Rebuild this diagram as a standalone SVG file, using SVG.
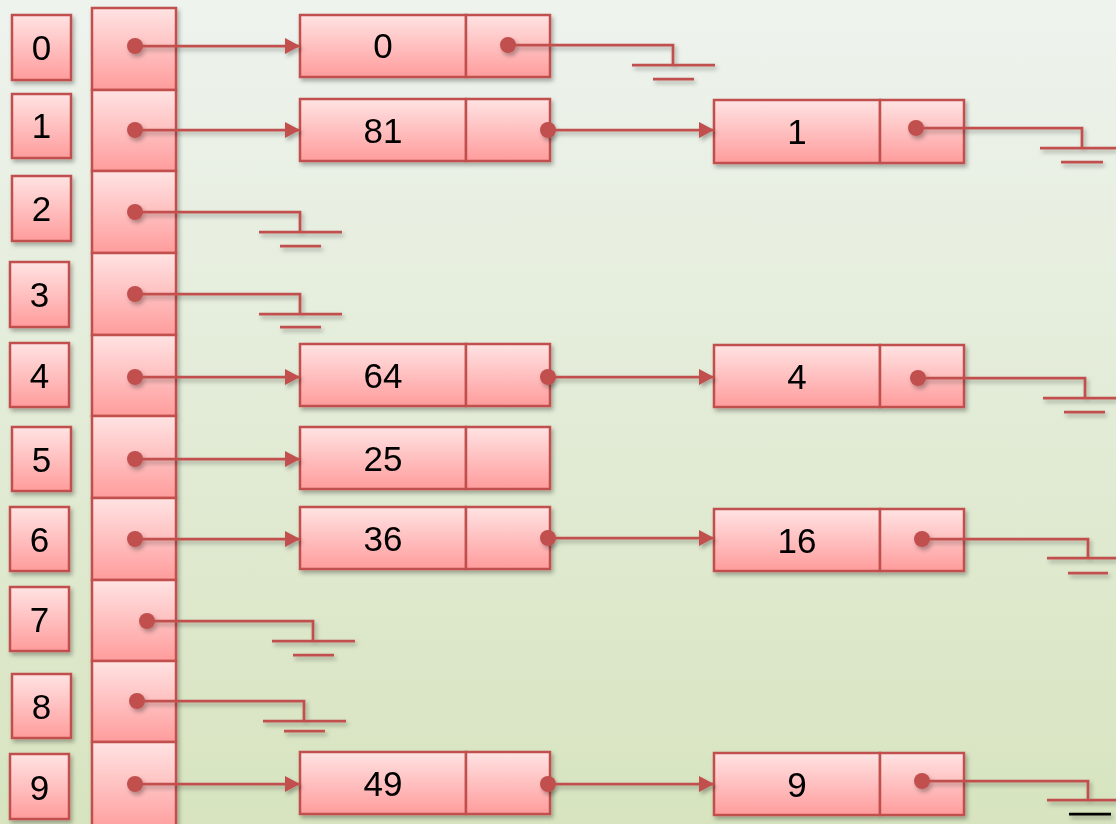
<svg xmlns="http://www.w3.org/2000/svg" width="1116" height="824" viewBox="0 0 1116 824">
<defs>
<linearGradient id="bg" x1="0" y1="0" x2="0" y2="1">
<stop offset="0" stop-color="#EEF3EE"/>
<stop offset="1" stop-color="#D7E4BF"/>
</linearGradient>
<linearGradient id="pink" x1="0" y1="0" x2="0" y2="1">
<stop offset="0" stop-color="#FFE3E3"/>
<stop offset="1" stop-color="#FF9C9C"/>
</linearGradient>
<filter id="sh" x="-20%" y="-20%" width="140%" height="150%">
<feDropShadow dx="2" dy="3" stdDeviation="2" flood-color="#000" flood-opacity="0.3"/>
</filter>
<marker id="arr" markerUnits="userSpaceOnUse" markerWidth="16" markerHeight="18" refX="15" refY="8" orient="auto">
<path d="M0,0 L15,8 L0,16 Z" fill="#C0504D"/>
</marker>
<style>
.box{fill:url(#pink);stroke:#C0504D;stroke-width:2.5}
.ln{stroke:#C0504D;stroke-width:2.75;fill:none}
.dot{fill:#C0504D}
.t{font-family:'Liberation Sans',Arial,sans-serif;font-size:35px;text-anchor:middle;fill:#000}
</style>
</defs>
<rect width="1116" height="824" fill="url(#bg)"/>

<g id="indices" filter="url(#sh)">
<g id="idx0"><rect class="box" x="12" y="15" width="59" height="65"/><text class="t" x="41.5" y="60">0</text></g>
<g id="idx1"><rect class="box" x="12" y="94" width="59" height="64"/><text class="t" x="41.5" y="138">1</text></g>
<g id="idx2"><rect class="box" x="12" y="176" width="59" height="65"/><text class="t" x="41.5" y="221">2</text></g>
<g id="idx3"><rect class="box" x="10" y="262" width="59" height="65"/><text class="t" x="39.5" y="307">3</text></g>
<g id="idx4"><rect class="box" x="10" y="343" width="59" height="64"/><text class="t" x="39.5" y="388">4</text></g>
<g id="idx5"><rect class="box" x="12" y="427" width="59" height="64"/><text class="t" x="41.5" y="472">5</text></g>
<g id="idx6"><rect class="box" x="10" y="507" width="59" height="64"/><text class="t" x="39.5" y="552">6</text></g>
<g id="idx7"><rect class="box" x="10" y="587" width="59" height="64"/><text class="t" x="39.5" y="632">7</text></g>
<g id="idx8"><rect class="box" x="12" y="674" width="59" height="64"/><text class="t" x="41.5" y="719">8</text></g>
<g id="idx9"><rect class="box" x="10" y="754" width="59" height="65"/><text class="t" x="39.5" y="800">9</text></g>
</g>

<g id="array" filter="url(#sh)">
<rect id="cell0" class="box" x="92" y="8" width="84" height="82"/>
<rect id="cell1" class="box" x="92" y="90" width="84" height="81"/>
<rect id="cell2" class="box" x="92" y="171" width="84" height="82"/>
<rect id="cell3" class="box" x="92" y="253" width="84" height="82"/>
<rect id="cell4" class="box" x="92" y="335" width="84" height="81"/>
<rect id="cell5" class="box" x="92" y="416" width="84" height="82"/>
<rect id="cell6" class="box" x="92" y="498" width="84" height="82"/>
<rect id="cell7" class="box" x="92" y="580" width="84" height="81"/>
<rect id="cell8" class="box" x="92" y="661" width="84" height="81"/>
<rect id="cell9" class="box" x="92" y="742" width="84" height="90"/>
</g>

<g id="nodes" filter="url(#sh)">
<g id="n0"><rect class="box" x="300" y="15" width="166" height="62"/><rect class="box" x="466" y="15" width="84" height="62"/><text class="t" x="383" y="58">0</text></g>
<g id="n81"><rect class="box" x="300" y="99" width="166" height="62"/><rect class="box" x="466" y="99" width="84" height="62"/><text class="t" x="383" y="143">81</text></g>
<g id="n64"><rect class="box" x="300" y="344" width="166" height="62"/><rect class="box" x="466" y="344" width="84" height="62"/><text class="t" x="383" y="388">64</text></g>
<g id="n25"><rect class="box" x="300" y="427" width="166" height="62"/><rect class="box" x="466" y="427" width="84" height="62"/><text class="t" x="383" y="471">25</text></g>
<g id="n36"><rect class="box" x="300" y="507" width="166" height="62"/><rect class="box" x="466" y="507" width="84" height="62"/><text class="t" x="383" y="551">36</text></g>
<g id="n49"><rect class="box" x="300" y="752" width="166" height="62"/><rect class="box" x="466" y="752" width="84" height="62"/><text class="t" x="383" y="796">49</text></g>
<g id="n1"><rect class="box" x="714" y="100" width="166" height="63"/><rect class="box" x="880" y="100" width="84" height="63"/><text class="t" x="797" y="144">1</text></g>
<g id="n4"><rect class="box" x="714" y="345" width="166" height="62"/><rect class="box" x="880" y="345" width="84" height="62"/><text class="t" x="797" y="389">4</text></g>
<g id="n16"><rect class="box" x="714" y="509" width="166" height="62"/><rect class="box" x="880" y="509" width="84" height="62"/><text class="t" x="797" y="553">16</text></g>
<g id="n9"><rect class="box" x="714" y="753" width="166" height="62"/><rect class="box" x="880" y="753" width="84" height="62"/><text class="t" x="797" y="797">9</text></g>
</g>

<g id="connectors" filter="url(#sh)">
<!-- arrows from array -->
<path class="ln" d="M135,46 H300" marker-end="url(#arr)"/>
<path class="ln" d="M135,130 H300" marker-end="url(#arr)"/>
<path class="ln" d="M135,377 H300" marker-end="url(#arr)"/>
<path class="ln" d="M135,459 H300" marker-end="url(#arr)"/>
<path class="ln" d="M135,539 H300" marker-end="url(#arr)"/>
<path class="ln" d="M135,784 H300" marker-end="url(#arr)"/>
<!-- arrows between nodes -->
<path class="ln" d="M548,130 H714" marker-end="url(#arr)"/>
<path class="ln" d="M548,377 H714" marker-end="url(#arr)"/>
<path class="ln" d="M548,538 H714" marker-end="url(#arr)"/>
<path class="ln" d="M548,784 H714" marker-end="url(#arr)"/>
<!-- null grounds -->
<path class="ln" d="M508,45 H673 V65 M632,65 H715 M653,79 H694"/>
<path class="ln" d="M916,128 H1082 V148 M1040,148 H1116 M1061,162 H1103"/>
<path class="ln" d="M135,212 H300 V232 M259,232 H342 M280,246 H321"/>
<path class="ln" d="M135,294 H300 V314 M259,314 H342 M280,327 H321"/>
<path class="ln" d="M918,378 H1085 V398 M1043,398 H1116 M1064,412 H1105"/>
<path class="ln" d="M922,539 H1088 V558 M1047,558 H1116 M1068,573 H1108"/>
<path class="ln" d="M147,621 H313 V641 M272,641 H355 M293,655 H334"/>
<path class="ln" d="M137,701 H304 V721 M263,721 H346 M284,731 H325"/>
<path class="ln" d="M922,781 H1088 V800 M1047,800 H1116"/>
<path d="M1069,814 H1111" stroke="#000" stroke-width="2.75"/>
<!-- dots -->
<circle class="dot" cx="135" cy="46" r="8"/>
<circle class="dot" cx="135" cy="130" r="8"/>
<circle class="dot" cx="135" cy="212" r="8"/>
<circle class="dot" cx="135" cy="294" r="8"/>
<circle class="dot" cx="135" cy="377" r="8"/>
<circle class="dot" cx="135" cy="459" r="8"/>
<circle class="dot" cx="135" cy="539" r="8"/>
<circle class="dot" cx="147" cy="621" r="8"/>
<circle class="dot" cx="137" cy="701" r="8"/>
<circle class="dot" cx="135" cy="784" r="8"/>
<circle class="dot" cx="508" cy="45" r="8"/>
<circle class="dot" cx="548" cy="130" r="8"/>
<circle class="dot" cx="548" cy="377" r="8"/>
<circle class="dot" cx="548" cy="538" r="8"/>
<circle class="dot" cx="548" cy="784" r="8"/>
<circle class="dot" cx="916" cy="128" r="8"/>
<circle class="dot" cx="918" cy="378" r="8"/>
<circle class="dot" cx="922" cy="539" r="8"/>
<circle class="dot" cx="922" cy="781" r="8"/>
</g>
</svg>
